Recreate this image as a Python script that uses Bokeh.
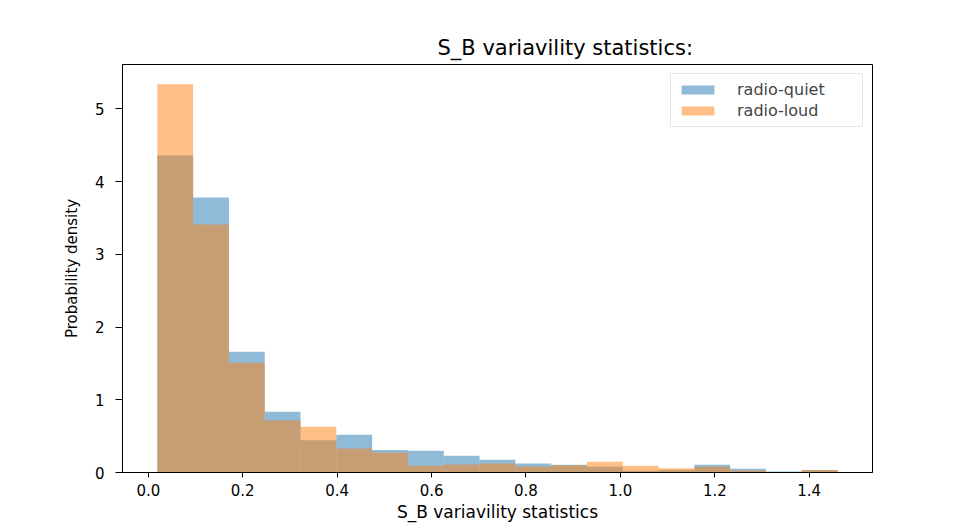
import numpy as np
from bokeh.plotting import figure
from bokeh.models import Range1d, FixedTicker, PrintfTickFormatter, Legend, LegendItem
from bokeh.embed import file_html
from bokeh.resources import INLINE

# histogram bins (19 equal bins) and densities
bin_lo = 0.0191
bin_hi = 1.460
n_bins = 19
quiet = [4.36, 3.78, 1.66, 0.835, 0.445, 0.52, 0.31, 0.30, 0.23, 0.175,
         0.125, 0.105, 0.078, 0.025, 0.035, 0.105, 0.05, 0.015, 0.033]
loud = [5.34, 3.41, 1.51, 0.715, 0.63, 0.33, 0.275, 0.092, 0.11, 0.125,
        0.083, 0.10, 0.147, 0.092, 0.06, 0.078, 0.028, 0.0, 0.035]
x_ticks = [0.0, 0.2, 0.4, 0.6, 0.8, 1.0, 1.2, 1.4]
y_ticks = [0, 1, 2, 3, 4, 5]

edges = np.linspace(bin_lo, bin_hi, n_bins + 1)
left = edges[:-1]
right = edges[1:]

FONT = "DejaVu Sans"

p = figure(width=960, height=526, output_backend="svg", toolbar_location=None,
           x_range=Range1d(-0.0547, 1.534), y_range=Range1d(0, 5.61),
           min_border_left=122, min_border_right=88, min_border_top=64, min_border_bottom=54)

p.title.text = "S_B variavility statistics:"
p.title.text_font = FONT
p.title.text_font_size = "21px"
p.title.text_font_style = "normal"
p.title.text_color = "black"
p.title.align = "left"
p.title.offset = 315

r1 = p.quad(left=left, right=right, top=quiet, bottom=0, fill_color="#1f77b4",
            fill_alpha=0.5, line_color=None)
r2 = p.quad(left=left, right=right, top=loud, bottom=0, fill_color="#ff7f0e",
            fill_alpha=0.5, line_color=None)

legend = Legend(items=[LegendItem(label="radio-quiet", renderers=[r1]),
                       LegendItem(label="radio-loud", renderers=[r2])],
                location="top_right")
legend.label_text_font = FONT
legend.label_text_font_size = "16px"
legend.label_standoff = 19
legend.label_width = 119
legend.label_height = 19
legend.glyph_width = 41
legend.glyph_height = 11
legend.spacing = 2
legend.padding = 6
legend.margin = 9
legend.border_line_color = "#d0d0d0"
legend.border_line_width = 1
legend.background_fill_alpha = 0.8
p.add_layout(legend)

p.xgrid.visible = False
p.ygrid.visible = False
p.outline_line_color = "black"
p.outline_line_width = 1

for ax in (p.xaxis[0], p.yaxis[0]):
    ax.axis_line_color = "black"
    ax.major_tick_line_color = "black"
    ax.major_tick_in = 0
    ax.minor_tick_line_color = None
    ax.major_label_text_font = FONT
    ax.major_label_text_font_size = "15px"
    ax.major_label_text_color = "black"
    ax.axis_label_text_font = FONT
    ax.axis_label_text_font_style = "normal"
    ax.axis_label_text_color = "black"

p.xaxis.major_tick_out = 5
p.yaxis.major_tick_out = 7
p.xaxis.major_label_standoff = 6
p.yaxis.major_label_standoff = 11
p.xaxis.ticker = FixedTicker(ticks=x_ticks)
p.xaxis.formatter = PrintfTickFormatter(format="%.1f")
p.yaxis.ticker = FixedTicker(ticks=y_ticks)
p.xaxis.axis_label = "S_B variavility statistics"
p.yaxis.axis_label = "Probability density"
p.xaxis.axis_label_text_font_size = "17px"
p.yaxis.axis_label_text_font_size = "15px"
p.xaxis.axis_label_standoff = 3
p.yaxis.axis_label_standoff = 11

open("out.html", "w").write(file_html(p, INLINE))
